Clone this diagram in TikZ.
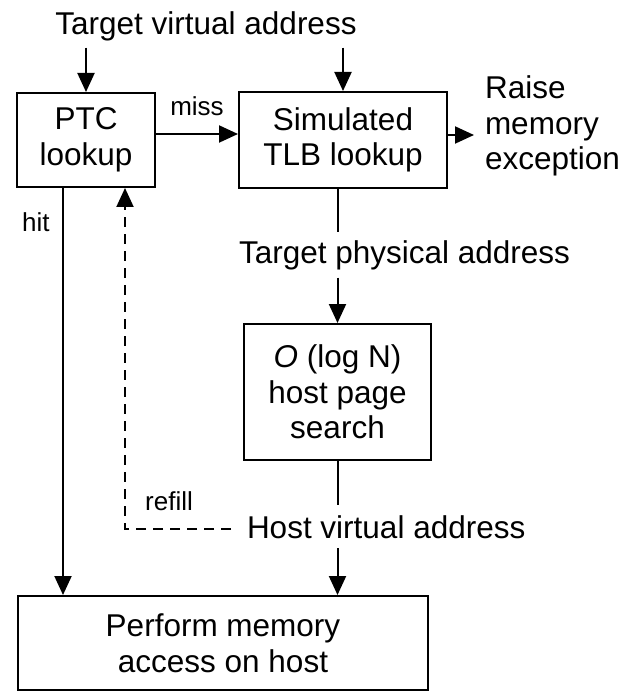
\documentclass[tikz,border=0pt]{standalone}
\usepackage{fontspec}
\setmainfont{Liberation Sans}
\usetikzlibrary{arrows.meta}
\newcommand\bigtext{\fontsize{31.5}{35.5}\selectfont}
\newcommand\smalltext{\fontsize{26}{30}\selectfont}
\begin{document}
\begin{tikzpicture}[x=1pt,y=-1pt,
  box/.style={draw, line width=2pt, align=center, inner sep=0pt, font=\bigtext},
  lbl/.style={inner sep=0pt, font=\bigtext},
  small/.style={inner sep=0pt, font=\smalltext},
  wire/.style={line width=2pt},
  conn/.style={line width=2pt, -{Triangle[length=19pt,width=17pt]}},
  refillline/.style={line width=2pt, dash pattern=on 10pt off 7pt, -{Triangle[length=19pt,width=17pt]}}]
  \fill[white] (0,0) rectangle (628,692);
  \useasboundingbox (0,0) rectangle (628,692);

  % processing boxes
  \node[box, minimum width=138pt, minimum height=94pt] (ptc) at (86,140) {PTC\\lookup};
  \node[box, minimum width=208pt, minimum height=96pt] (tlb) at (343,140) {Simulated\\TLB lookup};
  \node[box, minimum width=187pt, minimum height=136pt] (obox) at (337.5,392) {\textit{O} (log N)\\host page\\search};
  \node[box, minimum width=410pt, minimum height=94pt] (perf) at (223,643) {Perform memory\\access on host};

  % address labels
  \node[lbl, anchor=base, outer xsep=0pt, outer ysep=6pt] (tva) at (206,35) {Target virtual address};
  \node[lbl, anchor=base west, outer xsep=0pt, outer ysep=8pt] (tpa) at (239,263) {Target physical address};
  \node[lbl, anchor=base west, outer xsep=16pt, outer ysep=10pt] (hva) at (231,538) {Host virtual address};
  \node[lbl, align=left, anchor=north west, outer sep=0pt] (raise) at (485,76) {Raise\\memory\\exception};
  \coordinate (exc) at (474,135);

  % connectors
  \draw[conn] (tva.south -| ptc.north) -- (ptc.north);
  \draw[conn] (tva.south -| tlb.north) -- (tlb.north);
  \draw[conn] ([yshift=6pt]ptc.east) -- node[small, above=17pt] (miss) {miss} ([yshift=6pt]tlb.west);
  \draw[conn] ([yshift=5pt]tlb.east) -- (exc);
  \draw[wire] (tlb.south -| obox.north) -- (tpa.north -| obox.north);
  \draw[conn] (tpa.south -| obox.north) -- (obox.north);
  \draw[wire] (obox.south) -- (hva.north -| obox.south);
  \draw[conn] (hva.south -| obox.south) -- (obox.south |- perf.north);
  \draw[conn] ([xshift=-23pt]ptc.south) -- ([xshift=-23pt]ptc.south |- perf.north);
  \draw[refillline] ([yshift=-2pt]hva.west) -| ([xshift=39pt]ptc.south);

  % branch labels
  \node[small, anchor=base west] (hit) at (22,232) {hit};
  \node[small, anchor=base west] (refill) at (145,510) {refill};
\end{tikzpicture}
\end{document}
